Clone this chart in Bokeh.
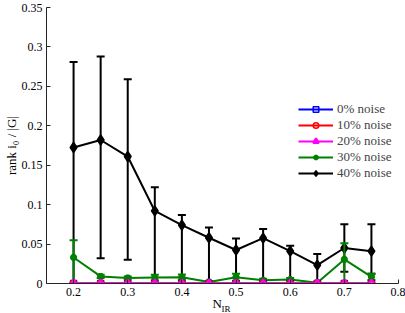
from bokeh.plotting import figure
from bokeh.models import FixedTicker, CustomJSTickFormatter, Legend, LegendItem, Range1d, Title
from bokeh.embed import file_html
from bokeh.resources import INLINE

# ---- data ----
x_vals = [0.2, 0.25, 0.3, 0.35, 0.4, 0.45, 0.5, 0.55, 0.6, 0.65, 0.7, 0.75]
noise0 = [0.0] * 12
noise10 = [0.0] * 12
noise20 = [0.0] * 12
noise30 = [0.033, 0.009, 0.007, 0.0075, 0.008, 0.002, 0.008, 0.004, 0.005, 0.001, 0.0305, 0.0085]
noise30_upper = [0.055, 0.011, 0.009, 0.011, 0.0115, 0.003, 0.0125, 0.006, 0.007, 0.002, 0.051, 0.0125]
noise30_lower = [0.0, 0.007, 0.005, 0.004, 0.0045, 0.001, 0.0035, 0.002, 0.003, 0.0, 0.0, 0.0045]
noise40 = [0.1725, 0.182, 0.161, 0.092, 0.074, 0.058, 0.0425, 0.0575, 0.041, 0.0234, 0.045, 0.041]
noise40_upper = [0.281, 0.288, 0.259, 0.122, 0.087, 0.071, 0.057, 0.069, 0.048, 0.0375, 0.075, 0.075]
noise40_lower = [0.0, 0.032, 0.030, 0.0, 0.0, 0.0, 0.0, 0.0, 0.0, 0.0, 0.015, 0.0125]
x_ticks = [0.2, 0.3, 0.4, 0.5, 0.6, 0.7, 0.8]
y_ticks = [0, 0.05, 0.1, 0.15, 0.2, 0.25, 0.3, 0.35]
labels = ["0% noise", "10% noise", "20% noise", "30% noise", "40% noise"]

FONT = "Liberation Serif"

p = figure(width=405, height=313, output_backend="svg", toolbar_location=None,
           x_range=Range1d(0.15, 0.8), y_range=Range1d(0, 0.35),
           min_border_left=46, min_border_right=7, min_border_top=7, min_border_bottom=30)
p.outline_line_color = None
p.xgrid.visible = False
p.ygrid.visible = False

for ax in (p.xaxis[0], p.yaxis[0]):
    ax.major_tick_in = 4
    ax.major_tick_out = 0
    ax.minor_tick_in = 0
    ax.minor_tick_out = 0
    ax.axis_line_color = "#262626"
    ax.major_tick_line_color = "#262626"
    ax.major_label_text_font = FONT
    ax.major_label_text_font_size = "12px"
    ax.major_label_text_color = "black"
p.xaxis.major_label_standoff = 4
p.yaxis.major_label_standoff = 4

p.xaxis.ticker = FixedTicker(ticks=x_ticks)
p.yaxis.ticker = FixedTicker(ticks=y_ticks)
p.xaxis.formatter = CustomJSTickFormatter(code="return String(Number(tick.toFixed(4)));")
p.yaxis.formatter = CustomJSTickFormatter(code="return String(Number(tick.toFixed(4)));")

# ---- 40% noise (black) ----
p.segment(x0=x_vals, y0=noise40_lower, x1=x_vals, y1=noise40_upper, line_color="black", line_width=2)
p.scatter(x=x_vals + x_vals, y=noise40_upper + noise40_lower, marker="dash", size=8,
          line_color="black", line_width=2)
l40 = p.line(x=x_vals, y=noise40, line_color="black", line_width=2)
s40 = p.scatter(x=x_vals, y=noise40, marker="diamond", size=10, line_color="black",
                fill_color="black", line_width=1.5)

# ---- 30% noise (green) ----
p.segment(x0=x_vals, y0=noise30_lower, x1=x_vals, y1=noise30_upper, line_color="#008000", line_width=2)
p.scatter(x=x_vals + x_vals, y=noise30_upper + noise30_lower, marker="dash", size=8,
          line_color="#008000", line_width=2)
l30 = p.line(x=x_vals, y=noise30, line_color="#008000", line_width=2)
s30 = p.scatter(x=x_vals, y=noise30, marker="asterisk", size=7, line_color="#008000", line_width=2.5)

# ---- 0%, 10%, 20% noise ----
l0 = p.line(x=x_vals, y=noise0, line_color="#0000ff", line_width=2)
s0 = p.scatter(x=x_vals, y=noise0, marker="square", size=6, line_color="#0000ff", fill_color=None, line_width=1.5)
l10 = p.line(x=x_vals, y=noise10, line_color="#ff0000", line_width=2)
s10 = p.scatter(x=x_vals, y=noise10, marker="circle", size=7, line_color="#ff0000", fill_color=None, line_width=1.5)
l20 = p.line(x=x_vals, y=noise20, line_color="#ff00ff", line_width=2)
s20 = p.scatter(x=x_vals, y=noise20, marker="triangle", size=7, line_color="#ff00ff", fill_color=None, line_width=2)

# ---- legend ----
pairs = [(l0, s0), (l10, s10), (l20, s20), (l30, s30), (l40, s40)]
items = [LegendItem(label=lab, renderers=list(rr)) for lab, rr in zip(labels, pairs)]
legend = Legend(items=items, location=(252, 102), border_line_alpha=0, background_fill_alpha=0,
                padding=0, margin=0, spacing=0, label_height=15, glyph_height=14, glyph_width=35,
                label_standoff=4, label_text_font=FONT, label_text_font_size="13px",
                label_text_baseline="middle")
p.add_layout(legend)

# ---- axis labels as side-panel titles ----
p.add_layout(Title(text="N", align="left", offset=166, standoff=-9, text_font=FONT,
                   text_font_size="13px", text_font_style="normal", text_color="black"), "below")
p.add_layout(Title(text="IR", align="left", offset=175, standoff=-9, text_font=FONT,
                   text_font_size="9px", text_font_style="normal", text_color="black"), "below")
p.add_layout(Title(text="rank i\u2080 / |G|", align="center", standoff=0, text_font=FONT,
                   text_font_size="13px", text_font_style="normal", text_color="black"), "left")

open("out.html", "w").write(file_html(p, INLINE))
